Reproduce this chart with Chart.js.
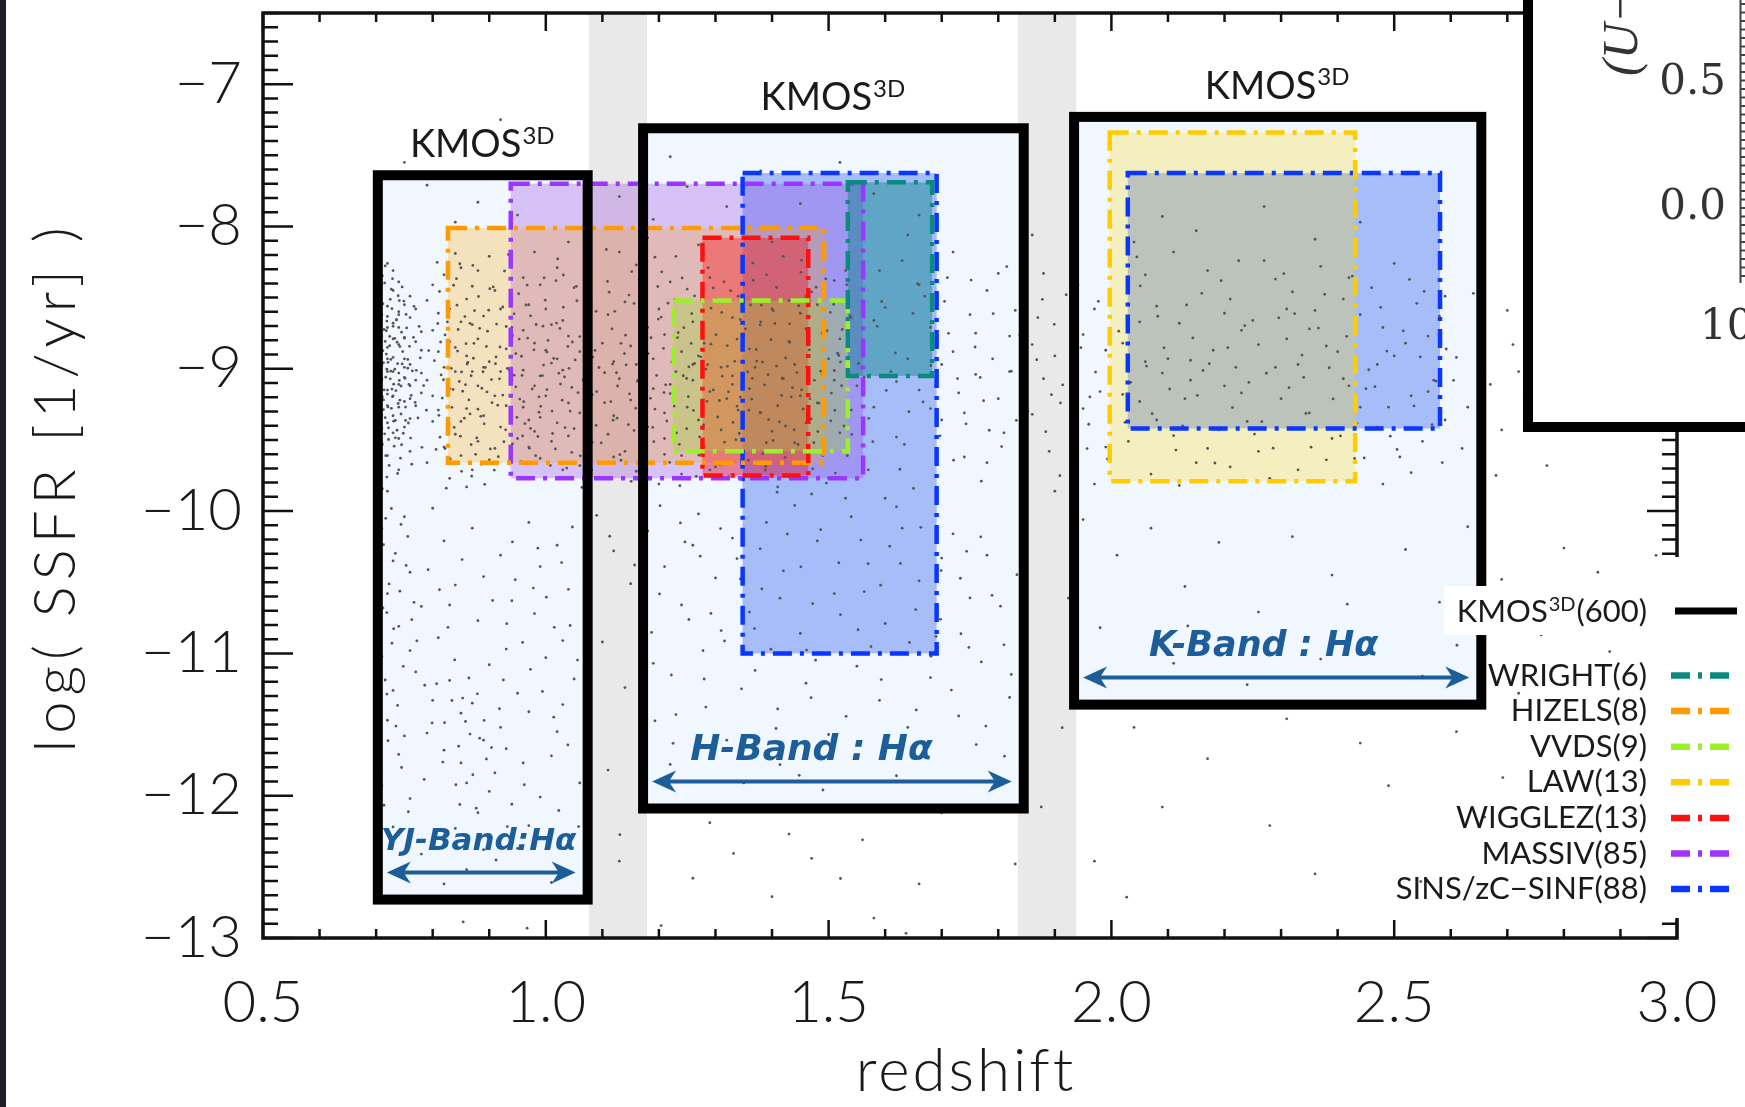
<!DOCTYPE html>
<html>
<head>
<meta charset="utf-8">
<title>log SSFR vs redshift</title>
<script src="https://cdn.jsdelivr.net/npm/chart.js@4.4.0/dist/chart.umd.min.js"></script>
<style>
  html, body { margin: 0; padding: 0; background: #fff; }
  #wrap { width: 1745px; height: 1107px; position: relative; }
</style>
</head>
<body>
<div id="wrap"><canvas id="ssfrChart" width="1745" height="1107"></canvas></div>
<script>
// surveys shown in the legend (top to bottom) and their sample sizes
var surveyNames = ['WRIGHT', 'HIZELS', 'VVDS', 'LAW', 'WIGGLEZ', 'MASSIV', 'SINS/zC\u2212SINF'];
var surveyCounts = [6, 8, 9, 13, 13, 85, 88];
var surveyLineColors = ['#0b8a7f', '#ff9a00', '#9cf02a', '#ffcc00', '#ff1010', '#9a36ff', '#0a36ff'];
var surveyFillColors = ['rgba(0,128,128,0.42)', 'rgba(255,165,0,0.25)', 'rgba(154,215,40,0.32)',
  'rgba(255,215,0,0.25)', 'rgba(255,0,0,0.35)', 'rgba(138,43,226,0.26)', 'rgba(30,80,240,0.35)'];

// survey boxes (index into surveyNames), listed in drawing order
var boxSurvey      = [6, 6, 3, 5, 1, 4, 2, 0];
var boxZMin        = [1.348, 2.029, 1.997, 0.938, 0.827, 1.277, 1.226, 1.534];
var boxZMax        = [1.691, 2.581, 2.431, 1.561, 1.492, 1.464, 1.534, 1.683];
var boxSsfrTop     = [-7.625, -7.625, -7.34, -7.70, -8.01, -8.08, -8.52, -7.69];
var boxSsfrBottom  = [-11.00, -9.42, -9.79, -9.77, -9.66, -9.75, -9.58, -9.05];

// KMOS3D coverage per band
var kmosCount = 600;
var kmosZMin       = [0.703, 1.172, 1.934];
var kmosZMax       = [1.074, 1.845, 2.654];
var kmosSsfrTop    = [-7.64, -7.31, -7.23];
var kmosSsfrBottom = [-12.73, -12.09, -11.36];
var kmosBandLabels = ['YJ-Band:H\u03b1', 'H-Band : H\u03b1', 'K-Band : H\u03b1'];

// redshift gaps between the bands (atmospheric windows)
var gapZMin = [1.076, 1.835];
var gapZMax = [1.179, 1.938];

// background galaxies [redshift, log SSFR]
var galaxies = [
  [0.71,-8.62],[0.72,-8.85],[0.73,-9.02],[0.71,-9.21],[0.74,-8.71],[0.72,-9.38],[0.75,-8.93],[0.73,-8.45],[0.76,-9.12],[0.71,-8.98],
  [0.74,-9.27],[0.72,-8.56],[0.77,-8.81],[0.73,-9.45],[0.75,-9.06],[0.71,-8.77],[0.76,-8.64],[0.72,-9.15],[0.74,-8.39],[0.73,-8.92],
  [0.78,-9.03],[0.71,-9.33],[0.75,-9.41],[0.72,-8.71],[0.76,-8.97],[0.74,-9.11],[0.73,-8.68],[0.77,-9.26],[0.71,-9.52],[0.75,-8.55],
  [0.72,-9.02],[0.74,-8.83],[0.76,-9.35],[0.73,-9.19],[0.78,-8.74],[0.71,-8.41],[0.75,-8.78],[0.72,-9.61],[0.74,-9.49],[0.77,-9.08],
  [0.73,-8.31],[0.76,-8.49],[0.71,-9.07],[0.75,-9.23],[0.72,-8.93],[0.74,-8.62],[0.78,-9.17],[0.73,-9.33],[0.76,-9.58],[0.71,-8.88],
  [0.77,-8.58],[0.72,-8.26],[0.75,-8.99],[0.74,-9.71],[0.73,-8.79],[0.76,-9.21],[0.71,-9.42],[0.78,-8.87],[0.72,-9.26],[0.74,-9.03],
  [0.79,-8.52],[0.81,-8.88],[0.83,-9.14],[0.80,-9.37],[0.85,-8.67],[0.82,-8.34],[0.87,-9.02],[0.84,-9.46],[0.79,-9.08],[0.88,-8.79],
  [0.86,-9.28],[0.81,-8.61],[0.90,-8.95],[0.83,-8.81],[0.89,-9.33],[0.85,-9.61],[0.80,-8.73],[0.92,-8.58],[0.87,-8.42],[0.84,-9.02],
  [0.91,-9.19],[0.82,-9.55],[0.88,-9.51],[0.86,-8.91],[0.93,-8.86],[0.80,-9.19],[0.90,-9.64],[0.85,-8.29],[0.94,-9.08],[0.83,-8.58],
  [0.89,-8.63],[0.87,-9.71],[0.92,-9.41],[0.81,-9.29],[0.86,-8.51],[0.94,-8.71],[0.84,-8.85],[0.91,-8.45],[0.88,-9.12],[0.82,-8.99],
  [0.93,-9.26],[0.85,-9.37],[0.90,-8.21],[0.86,-9.83],[0.79,-9.66],[0.92,-9.02],[0.84,-8.19],[0.89,-8.99],[0.95,-9.49],[0.87,-8.69],
  [0.83,-9.77],[0.80,-8.41],[0.91,-9.56],[0.94,-8.37],[0.88,-8.31],
  [0.96,-8.73],[0.98,-9.12],[1.00,-8.58],[0.97,-9.36],[1.02,-8.93],[0.99,-8.41],[1.04,-9.24],[1.01,-9.51],[0.96,-9.01],[1.03,-8.66],
  [1.06,-8.88],[0.98,-8.82],[1.05,-9.42],[1.00,-9.19],[0.97,-8.55],[1.07,-9.07],[1.02,-8.29],[0.99,-9.63],[1.04,-8.77],[1.08,-8.53],
  [0.96,-9.27],[1.01,-8.96],[1.06,-9.31],[0.98,-8.18],[1.03,-9.71],[1.00,-8.87],[1.05,-8.43],[0.97,-9.55],[1.09,-9.16],[1.02,-9.38],
  [1.07,-8.71],[0.99,-9.05],[1.04,-8.11],[1.08,-9.49],[1.01,-8.69],[0.96,-8.36],[1.06,-9.68],[1.03,-9.01],[1.10,-8.82],[0.98,-9.44],
  [1.11,-8.62],[1.13,-9.07],[1.15,-8.84],[1.12,-9.33],[1.17,-8.49],[1.14,-9.58],[1.19,-9.14],[1.16,-8.27],[1.21,-8.76],[1.18,-9.41],
  [1.23,-9.02],[1.20,-8.58],[1.25,-9.27],[1.22,-8.39],[1.27,-8.91],[1.24,-9.61],[1.29,-9.16],[1.26,-8.67],[1.31,-9.43],[1.28,-8.82],
  [1.33,-9.05],[1.30,-8.51],[1.12,-8.95],[1.15,-9.22],[1.18,-8.71],[1.21,-9.49],[1.24,-8.88],[1.27,-9.36],[1.30,-9.69],[1.33,-8.64],
  [1.13,-8.18],[1.16,-9.72],[1.19,-8.93],[1.22,-9.11],[1.25,-8.44],[1.28,-9.55],[1.31,-8.99],[1.34,-9.29],[1.11,-9.46],[1.14,-8.53],
  [1.17,-9.03],[1.20,-9.81],[1.23,-8.21],[1.26,-9.08],[1.29,-8.36],[1.32,-9.21],[1.35,-8.77],[1.12,-9.62],[1.18,-8.08],[1.24,-9.74],
  [1.27,-8.13],[1.32,-9.58],[1.16,-8.97],[1.21,-9.31],[1.26,-8.97],[1.29,-9.71],[1.34,-8.49],
  [1.36,-8.86],[1.38,-9.31],[1.40,-8.58],[1.42,-9.07],[1.44,-9.52],[1.46,-8.72],[1.48,-9.24],[1.50,-8.93],[1.52,-9.45],[1.54,-8.64],
  [1.37,-9.67],[1.39,-8.34],[1.41,-9.83],[1.43,-8.81],[1.45,-9.19],[1.47,-8.46],[1.49,-9.61],[1.51,-9.08],[1.53,-8.31],[1.36,-9.14],
  [1.38,-8.67],[1.40,-9.44],[1.42,-8.21],[1.44,-8.97],[1.46,-9.38],[1.48,-8.55],[1.50,-9.77],[1.52,-8.79],[1.54,-9.29],[1.37,-8.99],
  [1.41,-9.26],[1.45,-8.61],[1.49,-9.04],[1.53,-9.91],[1.39,-9.52],[1.43,-8.52],[1.47,-9.88],[1.51,-8.38],[1.55,-9.12],[1.40,-8.11],
  [1.56,-8.84],[1.58,-9.27],[1.60,-8.57],[1.62,-9.48],[1.64,-8.93],[1.66,-9.15],[1.68,-8.71],[1.70,-9.36],[1.72,-8.88],[1.74,-9.62],
  [1.76,-9.04],[1.78,-8.45],[1.80,-9.21],[1.82,-8.77],[1.84,-9.53],[1.57,-9.71],[1.59,-8.31],[1.61,-9.02],[1.63,-8.24],[1.65,-9.84],
  [1.67,-8.49],[1.69,-9.59],[1.71,-8.36],[1.73,-9.17],[1.75,-8.62],[1.77,-9.79],[1.79,-8.93],[1.81,-9.45],[1.83,-8.59],[1.58,-8.66],
  [1.62,-9.09],[1.66,-8.41],[1.70,-8.97],[1.74,-9.31],[1.78,-9.66],[1.82,-9.02],[1.60,-9.91],[1.64,-8.06],[1.72,-8.18],[1.76,-8.75],
  [1.80,-8.33],[1.84,-9.11],[1.68,-9.28],[1.86,-8.83],
  [1.86,-9.32],[1.87,-8.64],[1.88,-9.07],[1.89,-9.58],[1.90,-8.91],[1.91,-9.24],[1.92,-8.48],[1.93,-9.71],[1.94,-9.02],[1.95,-8.76],
  [1.96,-9.39],[1.97,-8.58],[1.98,-9.16],[1.99,-9.55],[1.88,-8.33],[1.90,-9.86],[1.93,-8.97],[1.95,-9.28],[1.97,-9.81],[1.99,-8.87],
  [2.02,-8.82],[2.05,-9.23],[2.08,-8.56],[2.11,-9.47],[2.14,-8.94],[2.17,-8.31],[2.20,-9.12],[2.23,-8.73],[2.26,-9.58],[2.29,-8.99],
  [2.32,-8.46],[2.35,-9.31],[2.38,-8.84],[2.41,-9.07],[2.44,-8.62],[2.47,-9.41],[2.50,-8.91],[2.53,-9.19],[2.56,-8.77],[2.59,-9.36],
  [2.03,-9.51],[2.06,-8.34],[2.09,-9.03],[2.12,-8.68],[2.15,-9.66],[2.18,-8.87],[2.21,-8.51],[2.24,-9.37],[2.27,-8.24],[2.30,-9.21],
  [2.33,-8.97],[2.36,-8.59],[2.39,-9.49],[2.42,-8.36],[2.45,-9.14],[2.48,-8.71],[2.51,-9.62],[2.54,-8.54],[2.57,-9.08],[2.04,-8.11],
  [2.07,-9.74],[2.10,-8.93],[2.13,-9.21],[2.16,-8.47],[2.19,-9.43],[2.22,-8.99],[2.25,-8.66],[2.28,-9.77],[2.31,-8.79],[2.34,-9.06],
  [2.37,-8.28],[2.40,-8.88],[2.43,-9.63],[2.46,-8.43],[2.49,-9.27],[2.52,-8.82],[2.55,-9.51],[2.58,-8.63],[2.02,-9.18],[2.05,-8.67],
  [2.08,-9.36],[2.11,-8.18],[2.14,-9.08],[2.17,-9.56],[2.20,-8.61],[2.23,-9.17],[2.26,-8.83],[2.29,-8.37],[2.32,-9.42],[2.35,-8.72],
  [2.38,-9.64],[2.41,-8.51],[2.44,-9.27],[2.47,-8.97],[2.50,-8.26],[2.53,-9.73],[2.56,-9.16],[2.59,-8.49],[2.09,-7.93],[2.27,-7.86],
  [2.15,-8.03],[2.36,-8.09],[2.44,-7.97],[2.12,-9.82],[2.33,-9.71],[2.48,-9.81],[2.21,-9.69],[2.06,-8.95],[2.31,-8.58],[2.42,-9.12],
  [2.61,-8.92],[2.63,-9.27],[2.65,-8.68],[2.67,-9.11],[2.69,-9.43],[2.71,-8.83],[2.73,-9.19],[2.62,-9.56],[2.66,-9.02],[2.70,-8.59],
  [2.74,-9.36],[2.78,-9.07],[2.82,-8.94],[2.77,-9.68],[2.86,-9.22],[2.64,-8.47],[2.68,-9.75],[2.72,-9.02],[2.90,-9.41],[2.80,-10.26],
  [0.72,-9.86],[0.71,-10.12],[0.73,-10.35],[0.72,-10.58],[0.74,-10.81],[0.71,-11.02],[0.73,-11.26],[0.72,-11.47],[0.74,-11.71],[0.71,-11.93],
  [0.75,-10.04],[0.76,-10.43],[0.78,-10.67],[0.77,-11.13],[0.79,-11.56],[0.76,-12.02],[0.80,-9.98],[0.82,-10.21],[0.84,-10.52],[0.81,-10.89],
  [0.83,-11.19],[0.85,-11.42],[0.82,-11.68],[0.86,-11.91],[0.84,-12.23],[0.87,-10.12],[0.89,-10.46],[0.88,-10.77],[0.90,-11.08],[0.87,-11.35],
  [0.89,-11.61],[0.91,-11.84],[0.88,-12.12],[0.92,-10.31],[0.94,-10.63],[0.93,-10.97],[0.95,-11.28],[0.92,-11.52],[0.96,-11.77],[0.94,-12.06],
  [0.97,-10.08],[0.99,-10.39],[0.98,-10.72],[1.00,-11.03],[0.97,-11.41],[1.01,-11.72],[0.99,-12.01],[1.02,-10.24],[1.04,-10.55],[1.03,-10.91],
  [1.05,-11.18],[1.02,-11.55],[1.06,-11.91],[1.04,-12.32],[0.78,-12.41],[0.86,-12.52],[0.95,-12.37],[1.01,-12.61],[0.73,-12.22],[0.90,-11.97],
  [0.85,-11.77],[0.80,-11.33],[0.93,-11.67],[0.76,-10.98],[0.83,-10.66],[1.03,-11.36],[0.97,-12.21],[0.89,-12.38],[0.75,-11.58],[0.82,-12.62],
  [1.09,-10.03],[1.12,-10.28],[1.15,-10.51],[1.18,-10.14],[1.21,-10.39],[1.24,-10.66],[1.27,-10.02],[1.30,-10.47],[1.33,-10.19],[1.36,-10.71],
  [1.39,-10.08],[1.42,-10.42],[1.45,-10.86],[1.48,-10.21],[1.51,-10.58],[1.54,-10.04],[1.57,-10.37],[1.60,-10.79],[1.63,-10.12],[1.66,-10.49],
  [1.69,-10.88],[1.72,-10.16],[1.75,-10.61],[1.78,-10.31],[1.81,-10.94],[1.84,-10.22],
  [1.10,-10.92],[1.14,-11.24],[1.19,-11.07],[1.23,-11.43],[1.28,-11.18],[1.32,-11.61],[1.37,-11.12],[1.41,-11.39],[1.46,-11.21],[1.50,-11.57],
  [1.55,-11.09],[1.59,-11.33],[1.64,-11.52],[1.68,-11.17],[1.73,-11.44],[1.77,-11.06],[1.82,-11.31],
  [1.11,-11.82],[1.17,-12.06],[1.22,-11.78],[1.29,-12.19],[1.35,-11.91],[1.43,-12.27],[1.49,-11.96],[1.56,-12.31],[1.62,-11.86],[1.70,-12.12],
  [1.79,-11.94],[1.13,-12.46],[1.26,-12.58],[1.47,-12.44],[1.66,-12.62],[1.83,-12.48],[1.40,-12.71],[1.58,-12.86],
  [1.31,-10.84],[1.44,-9.96],[1.62,-9.97],[1.17,-9.93],[1.70,-10.33],[1.26,-10.24],
  [1.95,-10.06],[2.01,-10.31],[2.07,-10.12],[2.13,-10.53],[2.19,-10.22],[2.26,-10.71],[2.32,-10.18],[2.39,-10.45],[2.46,-10.93],[2.52,-10.27],
  [2.58,-10.64],[2.63,-10.11],[2.69,-10.48],[1.98,-10.82],[2.11,-11.07],[2.24,-11.22],[2.37,-11.04],[2.55,-11.16],[2.04,-11.52],[2.17,-11.74],
  [2.31,-11.46],[2.44,-11.63],[2.61,-11.55],[2.72,-11.28],[2.09,-12.08],[2.28,-12.21],[2.49,-11.93],[2.66,-12.15],[2.83,-11.71],[2.92,-12.34],
  [1.97,-12.46],[2.36,-12.55],[2.76,-10.87],[2.86,-10.43],
  [0.79,-7.71],[0.88,-7.83],[0.95,-7.92],[1.01,-7.66],[1.07,-7.88],[1.13,-7.79],[1.19,-7.95],[1.25,-7.72],[1.32,-7.86],[1.38,-7.61],
  [1.45,-7.84],[1.52,-7.55],[1.58,-7.77],[1.66,-7.92],[0.84,-7.97],[1.22,-7.51],[0.92,-7.25],[0.75,-7.55],[1.86,-8.06],[1.94,-8.21],
  // denser cores
  [0.704,-8.512],[0.718,-8.733],[0.709,-9.046],[0.726,-8.934],[0.713,-9.287],[0.731,-9.108],[0.707,-8.826],[0.722,-9.415],[0.736,-8.655],[0.715,-8.397],
  [0.742,-9.221],[0.703,-9.134],[0.728,-8.578],[0.711,-9.532],[0.747,-8.879],[0.719,-9.003],[0.734,-9.362],[0.706,-8.694],[0.751,-9.067],[0.724,-8.772],
  [0.713,-8.958],[0.739,-8.487],[0.702,-9.394],[0.729,-9.196],[0.745,-8.743],[0.717,-9.611],[0.756,-8.934],[0.708,-8.606],[0.733,-9.003],[0.721,-9.268],
  [0.748,-9.453],[0.705,-8.871],[0.737,-8.813],[0.714,-9.149],[0.762,-9.187],[0.727,-8.441],[0.709,-9.703],[0.741,-9.082],[0.719,-8.665],[0.753,-8.618],
  [0.732,-9.544],[0.704,-9.012],[0.744,-9.318],[0.716,-8.808],[0.766,-8.779],[0.725,-9.071],[0.711,-8.347],[0.738,-8.964],[0.757,-9.381],[0.722,-9.497],
  [0.707,-9.236],[0.749,-8.524],[0.730,-8.702],[0.716,-9.344],[0.771,-9.011],[0.701,-8.739],[0.743,-9.628],[0.727,-9.278],[0.712,-8.543],[0.759,-8.842],
  [0.735,-9.153],[0.718,-8.897],[0.752,-9.269],[0.706,-9.483],[0.740,-8.599],[0.723,-9.679],[0.774,-9.346],[0.710,-9.077],[0.746,-8.966],[0.729,-8.367],
  [0.714,-8.724],[0.761,-9.487],[0.737,-9.432],[0.703,-8.983],[0.754,-8.713],[0.720,-9.178],[0.742,-8.844],[0.708,-9.578],[0.767,-8.561],[0.726,-9.017],
  [0.733,-8.786],[0.711,-9.198],[0.758,-9.109],[0.745,-9.534],[0.720,-8.632],[0.705,-8.442],[0.778,-8.923],[0.731,-9.368],[0.717,-9.059],[0.763,-9.671],
  [0.739,-9.244],[0.707,-9.325],[0.750,-8.785],[0.725,-8.512],[0.712,-8.873],[0.769,-9.236],[0.736,-8.657],[0.702,-9.608],[0.744,-9.121],[0.721,-8.955],
  [0.784,-9.118],[0.715,-9.457],[0.756,-8.996],[0.728,-9.143],[0.706,-8.641],[0.776,-8.702],[0.741,-8.521],[0.719,-9.761],[0.764,-9.015],[0.734,-9.485],
  [0.789,-9.291],[0.709,-8.907],[0.752,-9.363],[0.724,-8.838],[0.781,-9.552],[0.746,-8.425],[0.713,-9.219],[0.793,-8.872],[0.738,-9.736],[0.716,-8.277],
  [0.803,-8.943],[0.817,-9.206],[0.826,-8.671],[0.838,-9.412],[0.812,-8.457],[0.847,-9.089],[0.859,-8.824],[0.831,-9.634],[0.866,-9.317],[0.822,-8.762],
  [0.874,-8.592],[0.853,-9.158],[0.889,-9.021],[0.806,-9.567],[0.897,-8.736],[0.842,-8.367],[0.878,-9.486],[0.815,-9.043],[0.905,-9.238],[0.862,-8.955],
  [0.919,-8.847],[0.834,-9.271],[0.926,-9.513],[0.871,-8.274],[0.938,-9.097],[0.851,-9.721],[0.944,-8.614],[0.885,-9.334],[0.957,-8.912],[0.828,-8.538],
  [0.963,-9.385],[0.907,-8.425],[0.976,-9.142],[0.844,-8.876],[0.983,-8.689],[0.916,-9.618],[0.991,-9.264],[0.868,-9.049],[1.004,-8.801],[0.932,-8.997],
  [1.012,-9.455],[0.883,-8.716],[1.023,-9.031],[0.949,-9.341],[1.031,-8.567],[0.896,-9.163],[1.043,-9.297],[0.968,-8.784],[1.052,-8.938],[0.811,-9.327],
  [1.061,-9.612],[0.986,-9.476],[1.073,-8.746],[0.857,-8.633],[1.082,-9.184],[0.999,-8.518],[1.094,-8.991],[0.924,-9.185],[1.037,-9.698],[0.876,-9.601],
  [0.809,-8.682],[0.952,-8.473],[1.018,-8.381],[0.893,-8.991],[1.066,-9.079],[0.836,-9.145],[0.971,-9.559],[1.047,-8.812],[0.913,-8.686],[1.089,-9.398],
  [0.849,-9.474],[0.994,-9.048],[0.929,-9.429],[1.057,-9.168],[0.881,-8.492],[1.008,-9.679],[0.941,-8.768],[0.824,-9.839],[1.078,-8.633],[0.961,-9.231],
  [0.902,-9.563],[1.026,-9.107],[0.864,-9.219],[0.979,-8.867],[1.098,-9.521],[0.819,-9.077],[0.935,-9.007],[1.041,-8.997],[0.891,-9.387],[1.069,-9.338],
  [0.956,-9.652],[0.845,-8.724],[1.014,-8.927],[0.918,-9.071],[0.873,-8.821],[1.087,-8.871],[0.988,-9.305],[0.808,-8.252],[1.034,-9.413],[0.947,-9.127],
  [0.899,-8.588],[1.055,-8.522],[0.833,-8.997],[0.973,-9.419],[1.002,-9.146],[0.927,-8.313],[1.081,-9.711],[0.856,-9.347],[0.965,-8.552],[1.046,-9.587],
  [0.887,-9.137],[1.019,-8.679],[0.941,-9.528],[0.813,-9.481],[1.072,-9.261],[0.995,-8.701],[0.869,-9.755],[0.912,-8.917],[1.029,-9.221],[0.958,-9.047],
  [1.104,-9.028],[1.117,-8.719],[1.126,-9.347],[1.139,-8.893],[1.148,-9.177],[1.156,-8.541],[1.167,-9.512],[1.174,-9.036],[1.186,-8.782],[1.193,-9.283],
  [1.204,-8.637],[1.212,-9.113],[1.223,-8.952],[1.231,-9.451],[1.244,-8.711],[1.252,-9.196],[1.263,-8.488],[1.271,-9.607],[1.283,-9.003],[1.292,-8.827],
  [1.304,-9.339],[1.311,-8.604],[1.323,-9.162],[1.334,-8.948],[1.342,-9.455],[1.353,-8.719],[1.364,-9.214],[1.372,-8.864],[1.384,-9.596],[1.393,-9.041],
  [1.405,-8.682],[1.413,-9.373],[1.424,-8.924],[1.436,-9.132],[1.447,-8.557],[1.455,-9.283],[1.466,-8.807],[1.474,-9.519],[1.486,-9.017],[1.497,-8.733],
  [1.505,-9.171],[1.516,-8.891],[1.527,-9.402],[1.538,-8.628],[1.546,-9.057],[1.109,-8.386],[1.131,-9.603],[1.152,-8.317],[1.178,-9.714],[1.198,-8.422],
  [1.219,-9.658],[1.241,-8.362],[1.266,-9.756],[1.287,-8.291],[1.308,-9.671],[1.327,-8.451],[1.349,-9.782],[1.367,-8.378],[1.389,-9.687],[1.408,-8.429],
  [1.428,-9.744],[1.451,-8.322],[1.472,-9.703],[1.493,-8.483],[1.512,-9.733],[1.532,-8.409],[1.115,-9.231],[1.142,-8.973],[1.163,-9.081],[1.189,-9.412],
  [1.208,-8.856],[1.227,-9.262],[1.249,-9.068],[1.274,-8.916],[1.296,-9.149],[1.316,-9.516],[1.338,-8.791],[1.357,-9.022],[1.379,-9.307],[1.398,-8.796],
  [1.418,-9.066],[1.439,-9.429],[1.461,-8.989],[1.483,-9.241],[1.503,-8.604],[1.523,-9.119],[1.122,-8.596],[1.146,-9.392],[1.171,-8.651],[1.196,-9.047],
  [1.216,-8.539],[1.236,-9.531],[1.258,-8.613],[1.279,-9.394],[1.301,-8.761],[1.321,-8.983],[1.344,-9.199],[1.362,-8.552],[1.387,-9.113],[1.402,-9.504],
  [1.431,-8.684],[1.444,-9.027],[1.469,-9.353],[1.491,-8.862],[1.511,-9.293],[1.541,-9.461],[1.133,-8.821],[1.181,-8.893],[1.233,-8.781],[1.285,-9.229],
  [1.331,-9.377],[1.383,-8.953],[1.434,-9.197],[1.478,-8.427],[1.521,-8.952],[1.159,-9.277],[1.209,-9.167],[1.261,-9.293],[1.312,-9.052],[1.358,-9.643],
  [1.553,-8.963],[1.571,-9.348],[1.586,-8.702],[1.602,-9.152],[1.618,-8.889],[1.634,-9.531],[1.649,-8.611],[1.667,-9.233],[1.681,-8.977],[1.697,-9.471],
  [1.712,-8.751],[1.728,-9.069],[1.743,-9.387],[1.759,-8.847],[1.774,-9.224],[1.791,-8.613],[1.806,-9.547],[1.823,-9.017],[1.838,-8.763],[1.852,-9.299],
  [1.868,-8.936],[1.884,-9.442],[1.899,-8.688],[1.914,-9.113],[1.931,-9.377],[1.946,-8.852],[1.962,-9.198],[1.977,-8.526],[1.993,-9.634],[1.563,-9.058],
  [1.594,-8.527],[1.626,-9.706],[1.657,-8.401],[1.689,-9.116],[1.721,-9.642],[1.752,-8.377],[1.784,-9.432],[1.815,-8.282],[1.847,-9.781],[1.878,-8.512],
  [1.909,-9.751],[1.941,-8.412],[1.972,-9.023],[1.578,-9.512],[1.642,-9.302],[1.705,-8.526],[1.768,-9.061],[1.832,-9.362],[1.894,-9.182],[1.957,-9.561],
  [2.013,-8.736],[2.034,-9.095],[2.051,-8.417],[2.072,-9.316],[2.093,-8.853],[2.114,-9.571],[2.133,-8.552],[2.152,-9.187],[2.173,-8.964],[2.194,-8.381],
  [2.214,-9.273],[2.236,-8.697],[2.253,-9.459],[2.274,-9.031],[2.296,-8.642],[2.314,-9.133],[2.337,-8.904],[2.353,-9.551],[2.377,-8.477],[2.392,-9.212],
  [2.416,-8.772],[2.434,-9.382],[2.455,-9.007],[2.476,-8.568],[2.493,-9.474],[2.516,-8.734],[2.535,-9.261],[2.553,-8.456],[2.574,-9.087],[2.592,-8.861],
  [2.024,-9.376],[2.062,-8.981],[2.103,-9.142],[2.144,-8.783],[2.183,-9.662],[2.225,-8.241],[2.266,-9.371],[2.305,-8.331],[2.344,-9.314],[2.385,-8.993],
  [2.426,-8.349],[2.466,-9.126],[2.505,-9.567],[2.546,-8.917],[2.585,-9.659],[2.045,-8.214],[2.126,-9.402],[2.206,-8.851],[2.286,-9.558],[2.366,-8.714],
  [2.447,-9.627],[2.527,-8.372],[2.082,-8.631],[2.162,-9.012],[2.243,-9.096],[2.324,-8.612],[2.405,-9.472],[2.487,-8.876],[2.567,-9.392],[2.605,-9.081],
  [0.702,-9.912],[0.713,-10.236],[0.705,-10.471],[0.719,-10.713],[0.708,-10.942],[0.716,-11.187],[0.703,-11.372],[0.721,-11.614],[0.709,-11.826],[0.714,-12.067],
  [0.727,-9.982],[0.734,-10.297],[0.742,-10.563],[0.731,-10.827],[0.748,-11.091],[0.738,-11.366],[0.745,-11.802],[0.729,-12.312],[0.756,-10.178],[0.763,-10.763],
  [0.807,-11.213],[0.821,-11.487],[0.834,-11.331],[0.846,-11.652],[0.858,-11.478],[0.871,-11.853],[0.883,-11.596],[0.895,-11.742],[0.864,-11.173],[0.841,-11.923],
  [0.877,-12.088],[0.818,-11.764],[0.852,-10.341],[0.906,-10.628],[0.941,-10.217],[0.978,-10.541],[1.015,-10.817],[1.047,-10.112],[0.925,-11.187],[0.994,-11.268],
  [1.039,-11.643],[0.962,-11.923],[1.058,-12.217],[0.912,-12.452],[0.792,-10.412],[0.785,-11.886],
  [1.113,-10.177],[1.157,-10.379],[1.201,-10.582],[1.246,-10.217],[1.292,-10.719],[1.338,-10.334],[1.382,-10.547],[1.427,-10.161],[1.472,-10.651],[1.518,-10.363],
  [1.563,-10.566],[1.608,-10.247],[1.654,-10.692],[1.699,-10.418],[1.744,-10.283],[1.789,-10.592],[1.833,-10.447],[1.187,-10.853],[1.278,-10.981],[1.369,-10.826],
  [1.461,-10.977],[1.552,-10.834],[1.643,-10.923],[1.734,-10.862],[1.225,-11.632],[1.414,-11.782],[1.597,-11.693],[1.761,-11.641],[1.332,-12.406],[1.521,-12.582],
  [1.913,-11.522],[2.027,-12.713],[2.547,-12.603],[2.692,-11.873],[2.881,-10.987],[2.963,-10.311],[1.204,-12.913],[1.637,-12.967],[0.854,-12.887],[0.967,-12.931],
  [1.131,-12.274],[2.135,-10.807],[2.417,-10.654],[2.611,-10.943],[1.876,-12.079],[1.924,-10.612],
  [0.814,-8.812],[0.829,-9.388],[0.843,-8.553],[0.858,-9.112],[0.872,-8.926],[0.886,-9.671],[0.901,-8.437],[0.915,-9.256],[0.930,-8.703],[0.944,-9.045],
  [0.959,-9.472],[0.973,-8.628],[0.988,-9.197],[1.002,-8.883],[1.017,-9.563],[1.031,-8.341],[1.046,-9.131],[1.060,-8.774],[1.075,-9.392],[1.089,-8.596],
  [1.104,-9.238],[1.118,-8.967],[1.133,-9.643],[1.147,-8.482],[1.162,-9.087],[1.176,-8.851],[1.191,-9.512],[1.205,-8.319],[1.220,-9.174],[1.234,-8.746],
  [1.249,-9.421],[1.263,-8.963],[1.278,-9.611],[1.292,-8.574],[1.307,-9.223],[1.321,-8.838],[1.336,-9.498],[1.350,-8.412],[1.365,-9.067],[1.379,-8.692],
  [1.394,-9.357],[1.408,-8.981],[1.423,-9.622],[1.437,-8.513],[1.452,-9.148],[1.466,-8.867],[1.481,-9.441],[1.495,-8.369],[1.510,-9.012],[1.524,-8.724],
  [0.822,-9.561],[0.837,-8.413],[0.851,-9.022],[0.866,-8.681],[0.880,-9.284],[0.895,-8.843],[0.909,-9.712],[0.924,-8.566],[0.938,-9.331],[0.953,-8.791],
  [0.967,-8.412],[0.982,-9.611],[0.996,-8.974],[1.011,-9.297],[1.025,-8.717],[1.040,-9.472],[1.054,-8.421],[1.069,-9.034],[1.083,-8.918],[1.098,-9.662],
  [1.112,-8.462],[1.127,-9.121],[1.141,-8.764],[1.156,-9.433],[1.170,-8.987],[1.185,-9.208],[1.199,-8.651],[1.214,-9.367],[1.228,-8.512],[1.243,-9.049],
  [1.257,-8.822],[1.272,-9.478],[1.286,-8.971],[1.301,-9.583],[1.315,-8.389],[1.330,-9.109],[1.344,-8.654],[1.359,-9.291],[1.373,-8.946],[1.388,-9.712],
  [1.402,-8.592],[1.417,-9.188],[1.431,-8.813],[1.446,-9.532],[1.460,-8.492],[1.475,-9.081],[1.489,-8.751],[1.504,-9.366],[1.518,-8.906],[1.533,-9.611],
  [0.826,-9.187],[0.868,-9.533],[0.911,-8.964],[0.954,-9.213],[0.997,-8.361],[1.039,-8.843],[1.082,-9.517],[1.125,-9.028],[1.167,-8.388],[1.210,-9.601],
  [1.253,-8.987],[1.296,-8.432],[1.338,-9.262],[1.381,-8.553],[1.424,-9.402],[1.467,-9.211],[1.509,-8.547],[0.848,-8.262],[0.934,-8.197],[1.021,-8.228],
  [1.107,-8.162],[1.193,-8.216],[1.279,-8.198],[1.366,-8.257],[1.452,-8.238],[0.892,-9.812],[0.978,-9.768],[1.064,-9.834],[1.151,-9.791],[1.237,-9.822],
  [1.323,-9.758],[1.409,-9.867],[1.496,-9.803],[0.861,-8.967],[0.904,-9.076],[0.947,-8.893],[0.990,-9.341],[1.033,-9.057],[1.076,-8.816],[1.119,-9.361],
  [1.202,-9.962],[1.238,-10.083],[1.273,-10.317],[1.309,-10.123],[1.344,-10.477],[1.379,-10.265],[1.414,-10.612],[1.451,-10.392],[1.486,-10.131],[1.521,-10.728],
  [1.557,-10.204],[1.592,-10.521],[1.627,-10.368],[1.663,-10.114],[1.698,-10.761],[1.733,-10.472],[1.769,-10.181],[1.804,-10.668],[1.839,-10.394],[1.222,-11.152],
  [1.283,-11.377],[1.346,-11.249],[1.407,-11.528],[1.469,-11.311],[1.531,-11.442],[1.593,-11.184],[1.655,-11.397],[1.717,-11.258],[1.778,-11.511],[1.823,-11.148],
  [1.253,-10.762],[1.316,-10.913],[1.398,-10.971],[1.477,-11.048],[1.575,-10.952],[1.681,-11.021],[1.748,-10.958],[1.811,-11.722],[1.193,-11.474],[1.448,-11.857],
  [0.711,-9.843],[0.717,-10.051],[0.706,-10.339],[0.723,-10.512],[0.712,-10.681],[0.728,-10.928],[0.704,-11.147],[0.719,-11.286],[0.735,-11.511],[0.708,-11.738],
  [0.744,-10.094],[0.753,-10.382],[0.767,-10.641],[0.772,-10.912],[0.786,-11.224],[0.799,-11.489],[0.812,-10.553],[0.827,-10.817],[0.839,-11.046],[0.853,-11.314],
  [0.866,-11.567],[0.879,-11.284],[0.891,-11.471],[0.904,-11.662],[0.918,-11.389],[0.931,-10.791],[0.946,-10.482],[0.959,-10.923],[0.973,-11.112],[0.986,-10.261],
  [1.001,-10.605],[1.014,-11.448],[1.028,-10.362],[1.043,-10.804],[1.056,-11.047],[1.068,-10.482],[0.757,-12.113],[0.848,-12.062],[0.932,-12.217],[1.023,-12.104]
];

// tick labels of the neighbouring panel that overlaps the top right corner
var insetTickLabels = ['0.5', '0.0', '10'];

var LIGHT = '300 ';
var FAMILY = 'Lato, "Noto Sans", sans-serif';
var BAND_BLUE = '#1c5d9a';

function setFont(ctx, size, weight, family) {
    ctx.font = (weight || LIGHT) + size + 'px ' + (family || FAMILY);
}

// "KMOS" with a superscript "3D" and an optional suffix
function drawKmos(ctx, x, y, size, align, suffix, weight) {
    var supSize = Math.round(size * 0.64);
    setFont(ctx, size, weight); var w1 = ctx.measureText('KMOS').width;
    setFont(ctx, supSize, '400 '); var w2 = ctx.measureText('3D').width;
    setFont(ctx, size, weight); var w3 = suffix ? ctx.measureText(suffix).width : 0;
    var total = w1 + w2 + w3 + 2;
    var left = align === 'center' ? x - total / 2 : (align === 'right' ? x - total : x);
    ctx.textAlign = 'left';
    ctx.textBaseline = 'alphabetic';
    ctx.fillStyle = '#1a1a1a';
    setFont(ctx, size, weight); ctx.fillText('KMOS', left, y);
    setFont(ctx, supSize, '400 '); ctx.fillText('3D', left + w1 + 1, y - size * 0.36);
    if (suffix) { setFont(ctx, size, weight); ctx.fillText(suffix, left + w1 + w2 + 2, y); }
}

function doubleArrow(ctx, x0, x1, y) {
    var head = 24, half = 11;
    ctx.strokeStyle = BAND_BLUE;
    ctx.fillStyle = BAND_BLUE;
    ctx.lineWidth = 4;
    ctx.setLineDash([]);
    ctx.beginPath(); ctx.moveTo(x0 + 10, y); ctx.lineTo(x1 - 10, y); ctx.stroke();
    ctx.beginPath();
    ctx.moveTo(x0, y); ctx.lineTo(x0 + head, y - half); ctx.lineTo(x0 + head * 0.7, y); ctx.lineTo(x0 + head, y + half);
    ctx.closePath(); ctx.fill();
    ctx.beginPath();
    ctx.moveTo(x1, y); ctx.lineTo(x1 - head, y - half); ctx.lineTo(x1 - head * 0.7, y); ctx.lineTo(x1 - head, y + half);
    ctx.closePath(); ctx.fill();
}

var boxesPlugin = {
    id: 'surveyBoxes',
    // shaded regions sit under the galaxy points
    beforeDatasetsDraw: function(chart) {
        var ctx = chart.ctx, xs = chart.scales.x, ys = chart.scales.y, area = chart.chartArea;
        ctx.save();
        ctx.beginPath(); ctx.rect(area.left, area.top, area.right - area.left, area.bottom - area.top); ctx.clip();
        ctx.fillStyle = '#e9e9e9';
        for (var g = 0; g < gapZMin.length; g++) {
            var gx0 = xs.getPixelForValue(gapZMin[g]), gx1 = xs.getPixelForValue(gapZMax[g]);
            ctx.fillRect(gx0, area.top, gx1 - gx0, area.bottom - area.top);
        }
        ctx.fillStyle = '#f0f7fe';
        for (var k = 0; k < kmosZMin.length; k++) {
            var kx0 = xs.getPixelForValue(kmosZMin[k]), kx1 = xs.getPixelForValue(kmosZMax[k]);
            var ky0 = ys.getPixelForValue(kmosSsfrTop[k]), ky1 = ys.getPixelForValue(kmosSsfrBottom[k]);
            ctx.fillRect(kx0, ky0, kx1 - kx0, ky1 - ky0);
        }
        for (var b = 0; b < boxSurvey.length; b++) {
            var bx0 = xs.getPixelForValue(boxZMin[b]), bx1 = xs.getPixelForValue(boxZMax[b]);
            var by0 = ys.getPixelForValue(boxSsfrTop[b]), by1 = ys.getPixelForValue(boxSsfrBottom[b]);
            ctx.fillStyle = surveyFillColors[boxSurvey[b]];
            ctx.fillRect(bx0, by0, bx1 - bx0, by1 - by0);
        }
        ctx.restore();
    },
    afterDatasetsDraw: function(chart) {
        var ctx = chart.ctx, xs = chart.scales.x, ys = chart.scales.y, area = chart.chartArea;
        var i;
        ctx.save();

        // dash-dot outlines of the other surveys
        ctx.lineWidth = 4.5;
        ctx.setLineDash([19, 8, 4, 8]);
        for (i = 0; i < boxSurvey.length; i++) {
            var bx0 = xs.getPixelForValue(boxZMin[i]), bx1 = xs.getPixelForValue(boxZMax[i]);
            var by0 = ys.getPixelForValue(boxSsfrTop[i]), by1 = ys.getPixelForValue(boxSsfrBottom[i]);
            ctx.strokeStyle = surveyLineColors[boxSurvey[i]];
            ctx.strokeRect(bx0, by0, bx1 - bx0, by1 - by0);
        }
        ctx.setLineDash([]);

        // KMOS3D boxes, labels and band arrows
        var bandFont = [31, 36, 35];
        var bandShift = [-4, -22, -14];
        for (i = 0; i < kmosZMin.length; i++) {
            var kx0 = xs.getPixelForValue(kmosZMin[i]), kx1 = xs.getPixelForValue(kmosZMax[i]);
            var ky0 = ys.getPixelForValue(kmosSsfrTop[i]), ky1 = ys.getPixelForValue(kmosSsfrBottom[i]);
            ctx.strokeStyle = '#000';
            ctx.lineWidth = 10;
            ctx.lineJoin = 'miter';
            ctx.strokeRect(kx0, ky0, kx1 - kx0, ky1 - ky0);
            drawKmos(ctx, (kx0 + kx1) / 2, ky0 - 18, 38, 'center', '', '400 ');

            ctx.fillStyle = BAND_BLUE;
            ctx.font = 'italic bold ' + bandFont[i] + 'px "DejaVu Sans", sans-serif';
            ctx.textAlign = 'center';
            ctx.textBaseline = 'middle';
            ctx.fillText(kmosBandLabels[i], (kx0 + kx1) / 2 + bandShift[i], ky1 - 58);
            doubleArrow(ctx, kx0 + 9, kx1 - 12, ky1 - 27);
        }

        // frame with inward ticks
        ctx.strokeStyle = '#111';
        ctx.lineWidth = 3.5;
        ctx.strokeRect(area.left, area.top, area.right - area.left, area.bottom - area.top);
        ctx.lineWidth = 2.5;
        ctx.beginPath();
        for (i = 0; i <= 25; i++) {
            var tx = xs.getPixelForValue(xs.min + i / 10);
            var tl = i % 5 === 0 ? 18 : 9;
            ctx.moveTo(tx, area.bottom); ctx.lineTo(tx, area.bottom - tl);
            ctx.moveTo(tx, area.top); ctx.lineTo(tx, area.top + tl);
        }
        for (i = 0; i <= 65; i++) {
            var ty = ys.getPixelForValue(ys.min + i / 10);
            var yl = i % 10 === 0 ? 30 : 15;
            ctx.moveTo(area.left, ty); ctx.lineTo(area.left + yl, ty);
            ctx.moveTo(area.right, ty); ctx.lineTo(area.right - yl, ty);
        }
        ctx.stroke();

        // legend (white backing hides the right axis behind it)
        var legendRight = 1647;
        ctx.fillStyle = '#fff';
        ctx.fillRect(1444, 586, 301, 49);
        ctx.fillRect(1644, 557, 101, 361);
        drawKmos(ctx, legendRight, 622, 31, 'right', '(' + kmosCount + ')', '400 ');
        ctx.strokeStyle = '#000';
        ctx.lineWidth = 7;
        ctx.beginPath(); ctx.moveTo(1675, 611); ctx.lineTo(1737, 611); ctx.stroke();

        ctx.textAlign = 'right';
        ctx.textBaseline = 'middle';
        for (i = 0; i < surveyNames.length; i++) {
            var ly = 675.5 + 35.6 * i;
            ctx.fillStyle = '#1a1a1a';
            setFont(ctx, 31, '400 ');
            ctx.fillText(surveyNames[i] + '(' + surveyCounts[i] + ')', legendRight, ly);
            ctx.strokeStyle = surveyLineColors[i];
            ctx.lineWidth = 6.5;
            ctx.setLineDash([19, 8, 4, 8]);
            ctx.beginPath(); ctx.moveTo(1671, ly); ctx.lineTo(1729, ly); ctx.stroke();
        }
        ctx.setLineDash([]);

        // neighbouring panel overlapping the top right corner
        ctx.fillStyle = '#fff';
        ctx.fillRect(1528, 0, 217, 427);
        ctx.strokeStyle = '#000';
        ctx.lineWidth = 10;
        ctx.beginPath(); ctx.moveTo(1528, 0); ctx.lineTo(1528, 427); ctx.lineTo(1745, 427); ctx.stroke();
        ctx.fillStyle = '#333';
        ctx.font = '42px "DejaVu Serif", "Liberation Serif", serif';
        ctx.textBaseline = 'middle';
        ctx.textAlign = 'right';
        ctx.fillText(insetTickLabels[0], 1726, 83);
        ctx.fillText(insetTickLabels[1], 1726, 208);
        ctx.textAlign = 'left';
        ctx.fillText(insetTickLabels[2], 1700, 328);
        ctx.save();
        ctx.translate(1637, 76);
        ctx.rotate(-Math.PI / 2);
        ctx.font = 'italic 50px "Liberation Serif", serif';
        ctx.textBaseline = 'alphabetic';
        ctx.textAlign = 'left';
        ctx.fillText('(U\u2212', 0, 0);
        ctx.restore();
        ctx.strokeStyle = '#444';
        ctx.lineWidth = 2;
        ctx.beginPath();
        ctx.moveTo(1740.5, 0); ctx.lineTo(1740.5, 283);
        for (var m = 4; m < 283; m += 8.5) { ctx.moveTo(1740.5, m); ctx.lineTo(1745, m); }
        ctx.stroke();

        // axis titles
        ctx.fillStyle = '#1a1a1a';
        ctx.letterSpacing = '3px';
        setFont(ctx, 60);
        ctx.textAlign = 'center';
        ctx.textBaseline = 'middle';
        ctx.fillText('redshift', 966, 1072);
        ctx.letterSpacing = '6px';
        ctx.save();
        ctx.translate(56, 487);
        ctx.rotate(-Math.PI / 2);
        setFont(ctx, 58);
        ctx.fillText('log( SSFR [1/yr] )', 0, 0);
        ctx.restore();
        ctx.letterSpacing = '0px';

        // dark strip at the left edge of the picture
        ctx.fillStyle = '#1d1f27';
        ctx.fillRect(0, 0, 6, 1107);
        ctx.restore();
    }
};

document.addEventListener('DOMContentLoaded', function() {
    var points = galaxies.map(function(p) { return { x: p[0], y: p[1] }; });
    var ssfrChart = new Chart(document.getElementById('ssfrChart'), {
        type: 'scatter',
        data: {
            datasets: [{
                label: 'galaxies',
                data: points,
                pointRadius: 1.4,
                pointBorderWidth: 0,
                pointBackgroundColor: '#555'
            }]
        },
        options: {
            responsive: false,
            animation: false,
            devicePixelRatio: 1,
            layout: { padding: { top: 13, right: 68, left: 0, bottom: 0 } },
            plugins: { legend: { display: false }, tooltip: { enabled: false } },
            scales: {
                x: {
                    type: 'linear', min: 0.5, max: 3.0,
                    grid: { display: false, drawTicks: false },
                    border: { display: false },
                    ticks: {
                        stepSize: 0.5, includeBounds: false, padding: 30, color: '#1a1a1a',
                        font: { family: FAMILY, size: 58, weight: '300' },
                        callback: function(v) { return v.toFixed(1); }
                    },
                    afterFit: function(scale) {
                        scale.height = 169;
                        scale.paddingLeft = 0;
                        scale.paddingRight = 0;
                    }
                },
                y: {
                    type: 'linear', min: -13, max: -6.5,
                    grid: { display: false, drawTicks: false },
                    border: { display: false },
                    ticks: {
                        stepSize: 1, includeBounds: false, padding: 21, color: '#1a1a1a',
                        font: { family: FAMILY, size: 58, weight: '300' },
                        callback: function(v) { return Number.isInteger(v) ? '\u2212' + Math.abs(v) : ''; }
                    },
                    afterFit: function(scale) {
                        scale.width = 263;
                        scale.paddingTop = 0;
                        scale.paddingBottom = 0;
                    }
                }
            }
        },
        plugins: [boxesPlugin]
    });
});
</script>
</body>
</html>
